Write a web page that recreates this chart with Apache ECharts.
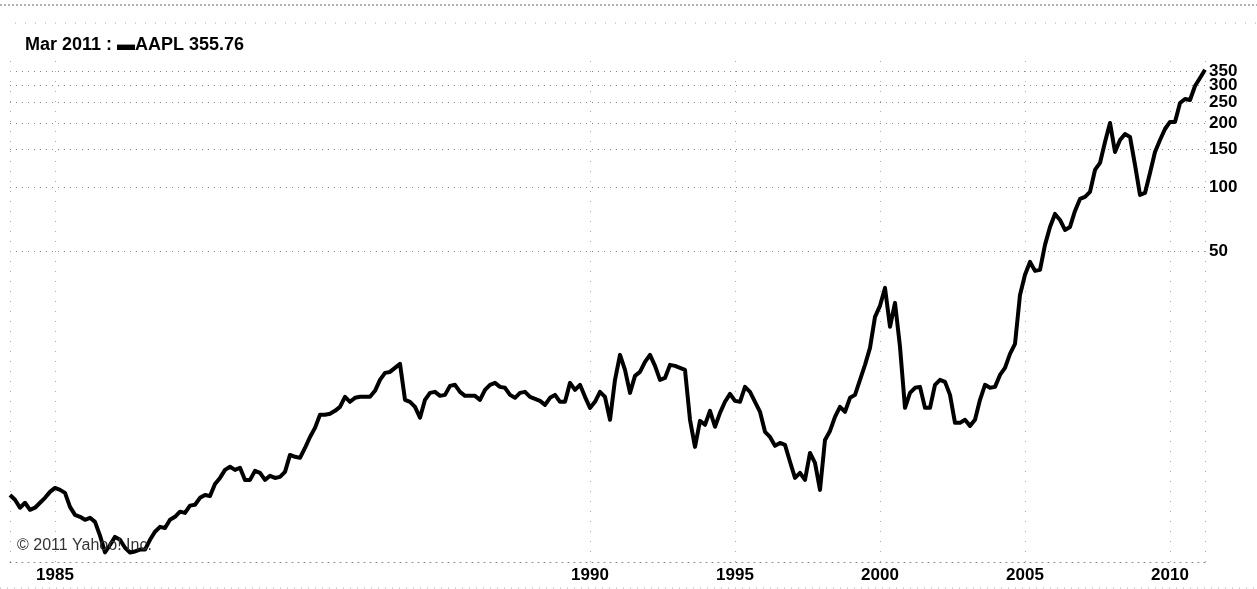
<!DOCTYPE html>
<html><head><meta charset="utf-8">
<script src="https://cdn.jsdelivr.net/npm/echarts@6/dist/echarts.min.js"></script>
<style>html,body{margin:0;padding:0;background:#fff}#c{width:1257px;height:589px}</style>
</head><body><div id="c"></div>
<script>
// AAPL adjusted close, one sample per step along the chart (oldest first)
const prices = [
3.56,3.38,3.10,3.27,3.03,3.10,3.27,3.45,3.68,3.84,3.76,3.64,3.13,2.87,2.81,2.72,2.78,2.66,2.29,1.91,
2.07,2.26,2.19,2.01,1.91,1.93,1.97,1.97,2.19,2.39,2.52,2.49,2.72,2.81,2.97,2.93,3.17,3.20,3.45,3.56,
3.52,4.01,4.28,4.67,4.83,4.67,4.78,4.19,4.19,4.62,4.52,4.19,4.38,4.28,4.33,4.57,5.49,5.38,5.32,5.92,
6.67,7.36,8.48,8.48,8.57,8.85,9.24,10.30,9.76,10.19,10.30,10.30,10.30,10.99,12.38,13.35,13.49,14.09,14.72,9.97,
9.76,9.24,8.21,9.97,10.75,10.87,10.41,10.52,11.60,11.73,10.87,10.41,10.41,10.41,9.97,11.11,11.73,11.98,11.47,11.36,
10.52,10.19,10.75,10.87,10.30,10.08,9.86,9.44,10.19,10.52,9.76,9.76,11.98,11.11,11.73,10.30,9.14,9.76,10.87,10.30,
8.03,12.38,16.23,13.79,10.75,12.92,13.49,15.04,16.23,14.40,12.38,12.64,14.56,14.40,14.09,13.79,8.03,5.99,7.94,7.61,
8.85,7.45,8.66,9.76,10.64,9.86,9.76,11.47,10.87,9.76,8.76,7.05,6.67,6.06,6.25,6.12,5.10,4.28,4.52,4.19,
5.61,5.04,3.76,6.46,7.12,8.29,9.24,8.76,10.19,10.52,12.38,14.56,17.50,24.47,27.60,33.50,22.0,28.49,17.7,9.14,
10.75,11.36,11.47,9.14,9.14,11.73,12.38,12.11,10.52,7.77,7.77,8.03,7.52,8.03,9.97,11.73,11.36,11.47,13.06,14.09,
16.40,18.28,31.06,38.64,44.40,40.28,40.72,53.37,64.84,74.66,69.96,62.78,64.84,77.12,87.82,89.77,94.73,120.2,129.7,162.7,
199.9,146.1,166.3,177.4,171.9,126.9,91.7,93.7,116.3,146.1,166.3,187.3,202.1,202.1,248.2,259.2,256.4,298.3,325.4,355.76
];
const yearLabels = ['1985','1990','1995','2000','2005','2010'];
const yearSample = [9,116,145,174,203,232];   // sample where each year label sits
const priceTicks = [50,100,150,200,250,300,350];
const titleText = 'Mar 2011 : \u25ACAAPL 355.76';
const creditText = '\u00A9 2011 Yahoo! Inc.';

const FONT = '"Liberation Sans", Arial, sans-serif';
const categories = prices.map((_, i) => String(i));
const labelAt = {};
yearSample.forEach((k, j) => { labelAt[k] = yearLabels[j]; });
const dots = [1, 5];

const chart = echarts.init(document.getElementById('c'));
chart.setOption({
  animation: false,
  backgroundColor: '#fff',
  title: {
    text: titleText, left: 20, top: 31,
    textStyle: { fontFamily: FONT, fontWeight: 'bold', fontSize: 18, color: '#000' }
  },
  grid: { left: 10, right: 52, top: 60, bottom: 27 },
  xAxis: {
    type: 'category', data: categories, boundaryGap: false,
    axisLine: { show: true, lineStyle: { color: '#888', type: dots, width: 1 } },
    axisTick: { show: false },
    splitLine: { show: false },
    axisLabel: {
      interval: (i) => Object.prototype.hasOwnProperty.call(labelAt, i),
      formatter: (v, i) => labelAt[i] || '',
      margin: 5, fontFamily: FONT, fontWeight: 'bold', fontSize: 17, color: '#000'
    }
  },
  yAxis: {
    type: 'log', min: 1.722, max: 395.3, position: 'right',
    axisLine: { show: false }, axisTick: { show: false },
    axisLabel: { show: false }, splitLine: { show: false }
  },
  series: [{
    type: 'line', data: prices, symbol: 'none', z: 5,
    lineStyle: { color: '#000', width: 4, join: 'round' },
    markLine: {
      silent: true, symbol: 'none', animation: false, z: 1,
      lineStyle: { color: '#888', type: dots, width: 1 },
      label: { position: 'end', formatter: '{b}', distance: 4,
        fontFamily: FONT, fontWeight: 'bold', fontSize: 17, color: '#000' },
      data: [
        ...priceTicks.map(t => ({ yAxis: t, name: String(t) })),
        ...yearSample.map(k => ({ xAxis: k, label: { show: false }, lineStyle: { color: '#aaa', type: [1, 9] } })),
        { xAxis: 0, label: { show: false }, lineStyle: { color: '#aaa', type: [1, 9] } },
        { xAxis: prices.length - 1, label: { show: false }, lineStyle: { color: '#aaa', type: [1, 9] } }
      ]
    }
  }],
  graphic: [
    { type: 'line', shape: { x1: 0, y1: 5, x2: 1257, y2: 5 }, style: { stroke: '#666', lineWidth: 1, lineDash: [2, 2] } },
    { type: 'line', shape: { x1: 15, y1: 23, x2: 1257, y2: 23 }, style: { stroke: '#aaa', lineWidth: 1, lineDash: [1, 9] } },
    { type: 'line', shape: { x1: 0, y1: 588, x2: 1257, y2: 588 }, style: { stroke: '#aaa', lineWidth: 1, lineDash: [1, 6] } },
    { type: 'text', left: 17, top: 538, z: 10,
      style: { text: creditText, fontFamily: FONT, fontSize: 16, fill: '#333' } }
  ]
});
</script>
</body></html>
